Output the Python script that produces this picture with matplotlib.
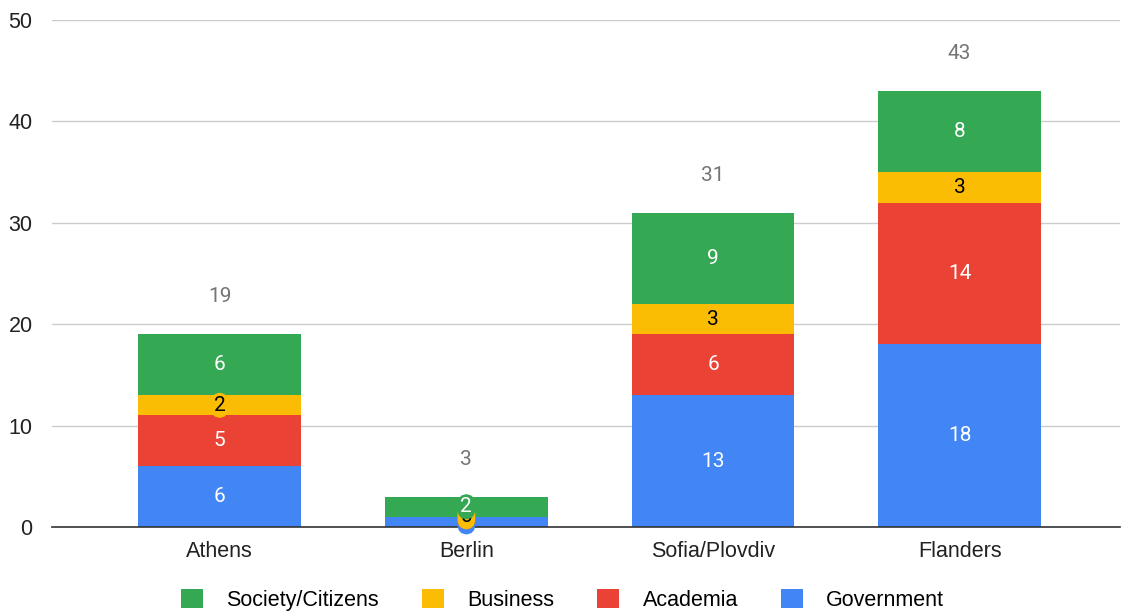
import matplotlib
matplotlib.use("Agg")
import matplotlib.pyplot as plt
from matplotlib.patches import Patch
import numpy as np

cities = ["Athens", "Berlin", "Sofia/Plovdiv", "Flanders"]
government = [6, 1, 13, 18]
academia = [5, 0, 6, 14]
business = [2, 0, 3, 3]
society = [6, 2, 9, 8]

series = [
    ("Government", government, "#4285F4", "white"),
    ("Academia", academia, "#EA4335", "white"),
    ("Business", business, "#FBBC04", "black"),
    ("Society/Citizens", society, "#34A853", "white"),
]

plt.rcParams["font.family"] = ["Liberation Sans", "DejaVu Sans"]

fig = plt.figure(figsize=(11.21, 6.15), dpi=100)
ax = fig.add_axes([52 / 1121, 88 / 615, 1068 / 1121, 507 / 615])

x = np.arange(len(cities))
w = 0.66
bottom = np.zeros(len(cities))
for name, vals, color, tcol in series:
    vals = np.array(vals, dtype=float)
    ax.bar(x, vals, w, bottom=bottom, color=color, zorder=2)
    for xi, b, v in zip(x, bottom, vals):
        yc = b + v / 2 if v > 0 else b
        kw = {}
        if v < 2.5:
            kw["bbox"] = dict(boxstyle="round,pad=0.15,rounding_size=0.5",
                              fc=color, ec="none")
        ax.text(xi, yc, f"{int(v)}", ha="center", va="center", fontsize=15,
                color=tcol, family=["Roboto", "DejaVu Sans"], zorder=4, **kw)
    bottom += vals

for xi, t in zip(x, bottom):
    ax.text(xi, t + 3.7, f"{int(t)}", ha="center", va="center", fontsize=15,
            color="#757575", family=["Roboto", "DejaVu Sans"])

ax.set_xlim(-0.68, 3.65)
ax.set_ylim(0, 50)
ax.set_yticks([0, 10, 20, 30, 40, 50])
ax.set_xticks(x)
ax.set_xticklabels(cities)
ax.tick_params(axis="both", length=0, labelsize=15.5, colors="#222222")
ax.tick_params(axis="y", pad=14)
ax.tick_params(axis="x", pad=10)
ax.grid(axis="y", color="#cccccc", lw=1, zorder=0)
for s in ["top", "right", "left"]:
    ax.spines[s].set_visible(False)
ax.spines["bottom"].set_color("#333333")
ax.spines["bottom"].set_linewidth(1.2)
ax.spines["bottom"].set_zorder(3)

handles = [Patch(facecolor=c, label=n) for n, _, c, _ in reversed(series)]
fig.legend(handles=handles, loc="center", bbox_to_anchor=(0.502, 0.025),
           ncol=4, frameon=False, fontsize=15.5, handlelength=1.0,
           handleheight=1.0, handletextpad=1.1, columnspacing=2.0)

fig.savefig("out.png", dpi=100)
